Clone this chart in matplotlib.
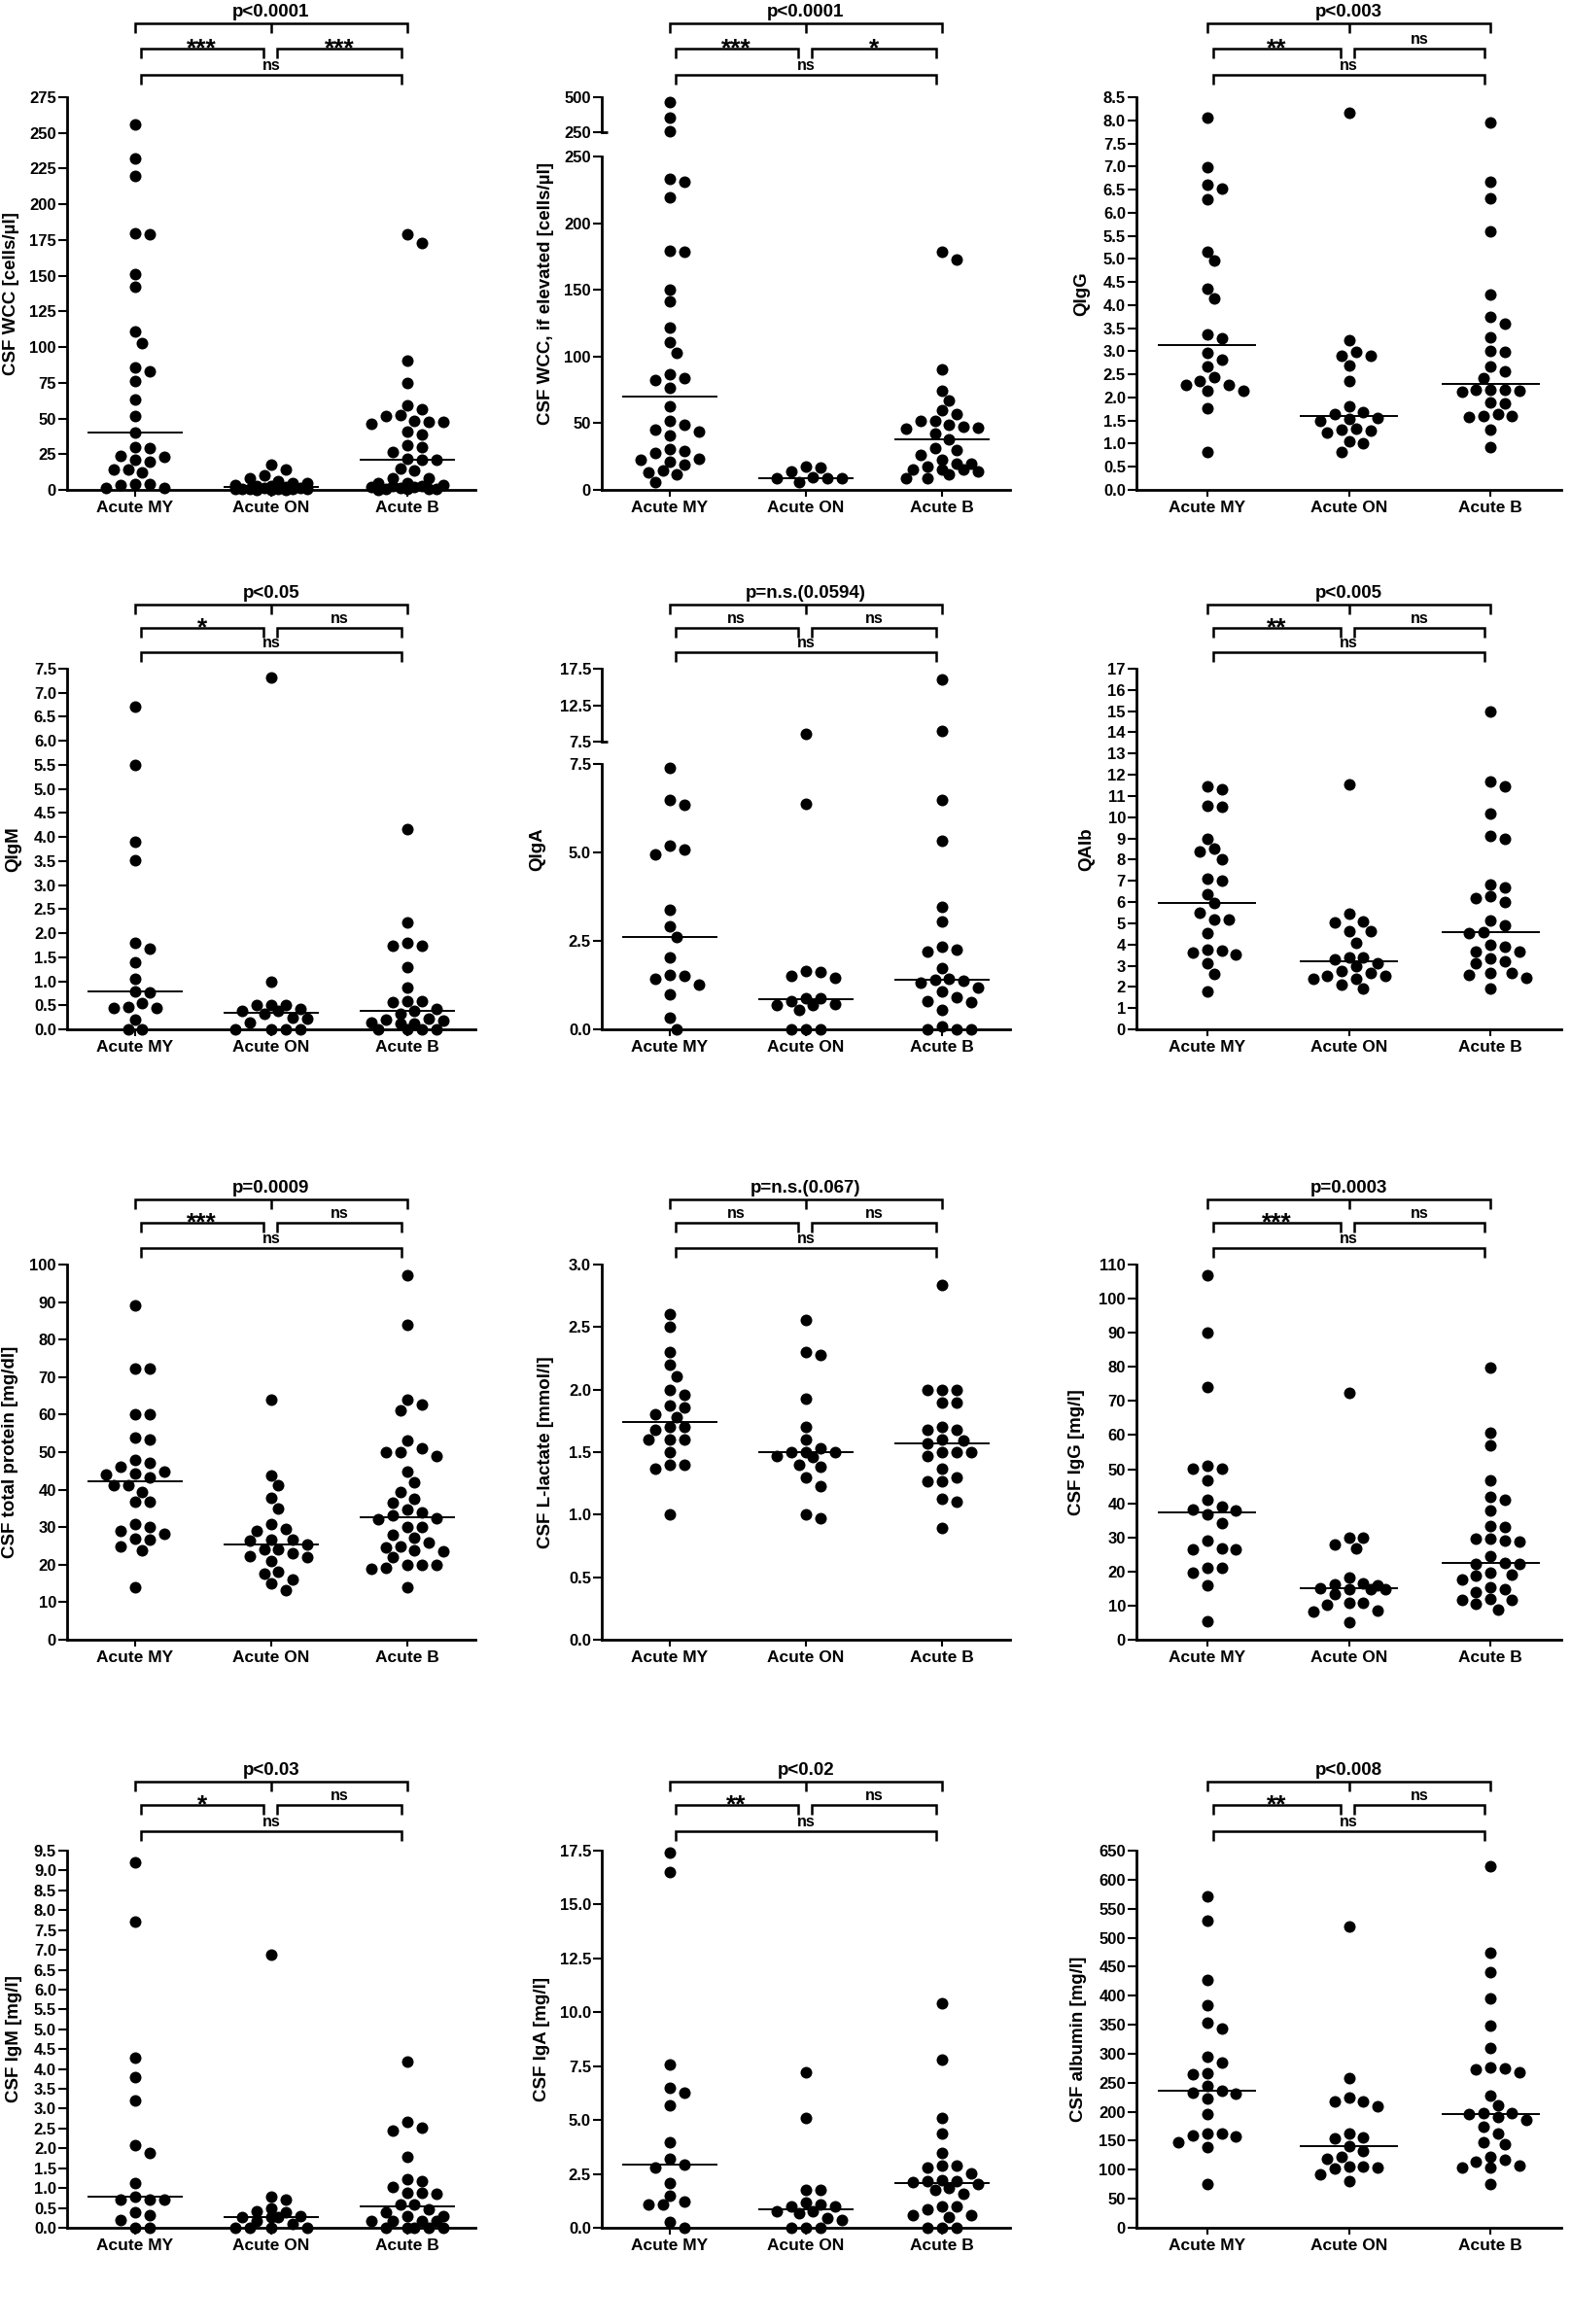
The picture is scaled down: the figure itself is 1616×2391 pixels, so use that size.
import matplotlib
matplotlib.use("Agg")
import matplotlib.pyplot as plt
import matplotlib.transforms as mtransforms
from matplotlib.ticker import MultipleLocator, FormatStrFormatter, FixedLocator
import numpy as np

plt.rcParams['font.family'] = ['Liberation Sans', 'DejaVu Sans']
plt.rcParams['font.weight'] = 'bold'
plt.rcParams['axes.labelweight'] = 'bold'

groups = ["Acute MY", "Acute ON", "Acute B"]

# CSF WCC [cells/µl]
wcc_my = [256, 232, 220, 180, 179, 151, 142, 111, 103, 86, 83, 76, 63, 52, 40,
          30, 29, 24, 23, 21, 20, 14.5, 14, 12, 4, 4, 3.5, 1.5, 1.5]
wcc_on = [17.5, 14, 10, 8.5, 6, 5, 4.5, 3.5, 3, 2.5, 2, 1.5, 1.5, 1, 1, 1,
          0.5, 0.5, 0.5, 0, 0, 0]
wcc_b = [179, 173, 90.5, 75, 59, 56.5, 52.5, 52, 48.5, 47.5, 47.5, 46, 41, 38.5,
         31, 30, 26.5, 22, 21, 21, 15, 13.5, 8.5, 8.5, 4.5, 4.5, 3.5, 3, 2.5,
         2, 2, 1.5, 1, 1, 0.5, 0.5, 0]

# CSF WCC, if elevated
wcce_my = [464, 354, 257, 233.5, 231, 219.5, 179.5, 178.5, 150.5, 141.5, 121.5,
           110.5, 102.5, 86.5, 83.5, 82.5, 76.5, 63, 51.5, 48.5, 45.5, 44, 40.5,
           30.5, 29, 28, 23, 22.5, 21.5, 19, 14.5, 13, 12, 6]
wcce_on = [17.5, 17, 14, 9.5, 8.5, 8.5, 8.5, 5.5]
wcce_b = [178.5, 172.5, 90.5, 74.5, 67, 59.5, 56.5, 52, 51.5, 48.5, 47.5, 46.5,
          46, 42, 38, 31.5, 30, 26, 22.5, 20, 20, 17.5, 15.5, 15, 15, 13.5,
          11.5, 8.5, 8.5]

# QIgG
qigg_my = [8.06, 6.98, 6.6, 6.53, 6.29, 5.16, 4.96, 4.36, 4.14, 3.37, 3.28, 2.97,
           2.81, 2.68, 2.45, 2.35, 2.28, 2.28, 2.14, 2.14, 1.77, 0.83]
qigg_on = [8.16, 3.23, 2.98, 2.9, 2.9, 2.69, 2.35, 1.8, 1.68, 1.65, 1.56, 1.53,
           1.5, 1.32, 1.3, 1.29, 1.25, 1.06, 1.02, 0.83]
qigg_b = [7.95, 6.68, 6.31, 5.59, 4.22, 3.75, 3.59, 3.3, 3.0, 2.98, 2.67, 2.56,
          2.43, 2.17, 2.17, 2.16, 2.14, 2.12, 1.89, 1.87, 1.65, 1.6, 1.6, 1.57,
          1.3, 0.93]

# QIgM
qigm_my = [6.71, 5.5, 3.9, 3.51, 1.8, 1.68, 1.4, 1.06, 0.78, 0.76, 0.55, 0.47,
           0.45, 0.45, 0.2, 0, 0]
qigm_on = [7.32, 0.99, 0.51, 0.51, 0.51, 0.42, 0.38, 0.38, 0.32, 0.24, 0.22,
           0.15, 0, 0, 0, 0]
qigm_b = [4.16, 2.22, 1.8, 1.73, 1.73, 1.29, 0.87, 0.59, 0.59, 0.57, 0.42, 0.38,
          0.32, 0.22, 0.2, 0.18, 0.15, 0.13, 0.13, 0, 0, 0, 0]

# QIgA
qiga_my = [7.4, 6.47, 6.35, 5.2, 5.07, 4.95, 3.39, 2.91, 2.61, 2.02, 1.53, 1.5,
           1.42, 1.27, 0.99, 0.32, 0]
qiga_on = [8.52, 6.38, 1.65, 1.63, 1.5, 1.45, 0.89, 0.87, 0.81, 0.72, 0.69, 0.69,
           0.55, 0, 0, 0]
qiga_b = [16.08, 8.97, 6.47, 5.34, 3.47, 3.06, 2.34, 2.25, 2.2, 1.74, 1.42, 1.4,
          1.38, 1.31, 1.17, 1.06, 0.9, 0.81, 0.78, 0.55, 0.09, 0, 0, 0]

# QAlb
qalb_my = [11.44, 11.3, 10.54, 10.49, 8.99, 8.53, 8.39, 8.01, 7.12, 7.0, 6.39,
           5.94, 5.51, 5.18, 5.16, 4.52, 3.78, 3.72, 3.63, 3.52, 3.11, 2.63, 1.79]
qalb_on = [11.53, 5.44, 5.1, 5.02, 4.64, 4.62, 4.1, 3.41, 3.41, 3.32, 3.11, 2.96,
           2.73, 2.65, 2.53, 2.53, 2.4, 2.37, 2.11, 1.91]
qalb_b = [15.0, 11.7, 11.45, 10.15, 9.11, 9.0, 6.85, 6.71, 6.28, 6.2, 6.02, 5.13,
          4.9, 4.59, 4.55, 3.98, 3.9, 3.68, 3.68, 3.34, 3.22, 3.11, 2.68, 2.68,
          2.57, 2.45, 1.91]

# CSF total protein [mg/dl]
prot_my = [89.2, 72.2, 72.2, 60.1, 60.1, 54.0, 53.3, 47.8, 47.1, 46.2, 44.9, 44.3,
           44.1, 43.2, 41.3, 41.1, 39.5, 36.9, 36.9, 30.9, 30.0, 29.0, 28.3, 27.0,
           26.8, 24.9, 23.9, 14.0]
prot_on = [64.0, 43.9, 41.1, 37.9, 35.0, 30.9, 29.6, 29.0, 26.8, 26.8, 26.5, 25.5,
           24.0, 24.0, 23.1, 22.2, 21.9, 21.0, 18.2, 17.5, 16.0, 14.9, 13.2]
prot_b = [97.2, 84.0, 64.0, 62.8, 61.1, 53.0, 51.0, 50.0, 50.0, 49.0, 44.9, 41.9,
          39.5, 37.6, 36.5, 34.6, 34.0, 33.1, 32.4, 32.2, 30.1, 30.1, 27.9, 27.1,
          25.9, 24.8, 24.6, 23.8, 23.5, 21.9, 19.9, 19.9, 19.9, 19.3, 18.8, 14.1]

# CSF L-lactate [mmol/l]
lac_my = [2.60, 2.50, 2.30, 2.20, 2.11, 2.00, 1.96, 1.87, 1.86, 1.80, 1.78, 1.70,
          1.70, 1.68, 1.60, 1.60, 1.60, 1.50, 1.40, 1.40, 1.37, 1.00]
lac_on = [2.56, 2.30, 2.28, 1.93, 1.70, 1.60, 1.53, 1.50, 1.50, 1.50, 1.47, 1.46,
          1.40, 1.38, 1.30, 1.23, 1.00, 0.97]
lac_b = [2.84, 2.00, 2.00, 2.00, 1.90, 1.90, 1.70, 1.68, 1.68, 1.60, 1.59, 1.57,
         1.50, 1.50, 1.50, 1.47, 1.37, 1.30, 1.27, 1.27, 1.13, 1.10, 0.89]

# CSF IgG [mg/l]
igg_my = [107, 90.1, 74.2, 50.9, 50.1, 50.1, 46.6, 40.9, 38.9, 38.3, 38.0, 36.8,
          34.2, 29.0, 26.9, 26.6, 26.4, 21.1, 21.1, 19.8, 15.9, 5.4]
igg_on = [72.5, 29.9, 29.9, 27.9, 26.9, 18.1, 16.6, 16.2, 15.9, 15.2, 14.9, 14.9,
          14.7, 13.5, 10.7, 10.7, 10.2, 8.6, 8.3, 5.2]
igg_b = [79.9, 60.7, 56.9, 46.6, 42.0, 40.9, 38.0, 33.3, 33.0, 29.7, 29.7, 29.0,
         28.8, 24.4, 22.6, 22.3, 22.1, 19.7, 19.2, 18.8, 17.6, 15.4, 14.7, 14.1,
         11.9, 11.6, 11.6, 10.5, 8.7]

# CSF IgM [mg/l]
igm_my = [9.2, 7.71, 4.29, 3.79, 3.21, 2.09, 1.88, 1.13, 0.79, 0.7, 0.7, 0.7,
          0.38, 0.31, 0.19, 0, 0]
igm_on = [6.88, 0.79, 0.7, 0.49, 0.41, 0.38, 0.29, 0.27, 0.27, 0.26, 0.18, 0.11,
          0, 0, 0, 0]
igm_b = [4.19, 2.67, 2.53, 2.44, 1.78, 1.23, 1.17, 1.02, 0.87, 0.87, 0.86, 0.59,
         0.59, 0.47, 0.39, 0.29, 0.29, 0.16, 0.16, 0.16, 0.16, 0, 0, 0, 0, 0]

# CSF IgA [mg/l]
iga_my = [17.42, 16.52, 7.59, 6.49, 6.29, 5.69, 3.95, 3.2, 2.91, 2.79, 2.07, 1.51,
          1.21, 1.06, 1.06, 0.27, 0]
iga_on = [7.21, 5.08, 1.78, 1.78, 1.16, 1.06, 0.98, 0.98, 0.75, 0.75, 0.68, 0.45,
          0.35, 0, 0, 0]
iga_b = [10.41, 7.8, 5.08, 4.37, 3.47, 2.87, 2.87, 2.79, 2.53, 2.19, 2.16, 2.16,
         2.11, 2.04, 1.84, 1.78, 1.58, 0.98, 0.98, 0.87, 0.6, 0.6, 0.5, 0, 0, 0]

# CSF albumin [mg/l]
alb_my = [570.6, 529.7, 427.9, 384.3, 353.5, 342.9, 295.4, 284.2, 266.8, 264.6,
          244.4, 236.1, 232.1, 231.0, 222.1, 195.8, 163.3, 162.2, 159.4, 157.7,
          147.1, 139.8, 75.5]
alb_on = [519.1, 257.3, 223.8, 218.2, 217.0, 209.8, 163.3, 156.6, 153.8, 141.5,
          132.6, 123.1, 118.6, 106.3, 106.3, 104.6, 101.8, 92.3, 81.1]
alb_b = [623.7, 474.3, 440.2, 395.5, 348.5, 309.3, 275.8, 275.2, 273.0, 268.5,
         228.2, 210.9, 196.9, 196.9, 195.8, 190.2, 185.7, 174.5, 162.2, 146.6,
         143.8, 121.9, 117.5, 113.6, 108.0, 104.6, 104.6, 75.5]

panels = [
    dict(data=(wcc_my, wcc_on, wcc_b), ylabel="CSF WCC [cells/µl]", ymax=275, step=25,
         fmt='%d', p="p<0.0001", marks=("***", "***", "ns")),
    dict(data=(wcce_my, wcce_on, wcce_b), ylabel="CSF WCC, if elevated [cells/µl]",
         ymax=250, step=50, fmt='%d', p="p<0.0001", marks=("***", "*", "ns"),
         brk=dict(lim=(250, 500), ticks=[250, 500], up_bottom=136, low_top=161)),
    dict(data=(qigg_my, qigg_on, qigg_b), ylabel="QIgG", ymax=8.5, step=0.5,
         fmt='%.1f', p="p<0.003", marks=("**", "ns", "ns")),
    dict(data=(qigm_my, qigm_on, qigm_b), ylabel="QIgM", ymax=7.5, step=0.5,
         fmt='%.1f', p="p<0.05", marks=("*", "ns", "ns")),
    dict(data=(qiga_my, qiga_on, qiga_b), ylabel="QIgA", ymax=7.5, step=2.5,
         fmt='%.1f', p="p=n.s.(0.0594)", marks=("ns", "ns", "ns"),
         brk=dict(lim=(7.5, 17.5), ticks=[7.5, 12.5, 17.5], up_bottom=763, low_top=786)),
    dict(data=(qalb_my, qalb_on, qalb_b), ylabel="QAlb", ymax=17, step=1,
         fmt='%d', p="p<0.005", marks=("**", "ns", "ns")),
    dict(data=(prot_my, prot_on, prot_b), ylabel="CSF total protein [mg/dl]", ymax=100,
         step=10, fmt='%d', p="p=0.0009", marks=("***", "ns", "ns")),
    dict(data=(lac_my, lac_on, lac_b), ylabel="CSF L-lactate [mmol/l]", ymax=3.0,
         step=0.5, fmt='%.1f', p="p=n.s.(0.067)", marks=("ns", "ns", "ns")),
    dict(data=(igg_my, igg_on, igg_b), ylabel="CSF IgG [mg/l]", ymax=110, step=10,
         fmt='%d', p="p=0.0003", marks=("***", "ns", "ns")),
    dict(data=(igm_my, igm_on, igm_b), ylabel="CSF IgM [mg/l]", ymax=9.5, step=0.5,
         fmt='%.1f', p="p<0.03", marks=("*", "ns", "ns")),
    dict(data=(iga_my, iga_on, iga_b), ylabel="CSF IgA [mg/l]", ymax=17.5, step=2.5,
         fmt='%.1f', p="p<0.02", marks=("**", "ns", "ns")),
    dict(data=(alb_my, alb_on, alb_b), ylabel="CSF albumin [mg/l]", ymax=650, step=50,
         fmt='%d', p="p<0.008", marks=("**", "ns", "ns")),
]

W, H = 1616, 2391
fig = plt.figure(figsize=(W / 100, H / 100), dpi=100)

# layout in pixels
col_left = [69, 619, 1169]
col_width = [420, 420, 437]
row_top = [100, 688, 1301, 1904]
row_bottom = [504, 1059, 1687, 2292]
bracket_rows = [(24, 50, 77), (622, 646, 671), (1234, 1258, 1284), (1833, 1857, 1884)]
label_dx = [-57, -57, -56, -55, -66, -51, -58, -57, -61, -54, -62, -59]

LW = 2.0
DOT_PX = 12.0


def add_px_axes(left, top, width, bottom):
    return fig.add_axes([left / W, 1 - bottom / H, width / W, (bottom - top) / H])


def swarm_x(ax, vals, center, diam=DOT_PX, half=7.4, kmax=5):
    # prism-like column scatter: centre first, then alternate sides,
    # overlapping once the column is full
    vals = np.asarray(vals, dtype=float)
    ys = ax.transData.transform(np.column_stack([np.full(len(vals), center), vals]))[:, 1]
    offs = np.zeros(len(vals))
    placed = []
    cand = [0]
    for k in range(1, kmax + 1):
        cand += [k, -k]
    for i in np.argsort(-vals, kind='stable'):
        best, best_d = None, -1.0
        for s in cand:
            x = s * half
            d = min((np.hypot(x - px, ys[i] - py) for px, py in placed), default=1e9)
            if d >= diam:
                best = x
                break
            if d > best_d + 0.5:
                best, best_d = x, d
        placed.append((best, ys[i]))
        offs[i] = best
    return center + offs * 3.0 / ax.bbox.width


def dots(ax, vals, center):
    if len(vals) == 0:
        return
    xs = swarm_x(ax, vals, center)
    ax.scatter(xs, vals, s=(DOT_PX * 0.72) ** 2, c='black', linewidths=0,
               clip_on=False, zorder=3)


def style_y(ax, fmt):
    ax.spines['top'].set_visible(False)
    ax.spines['right'].set_visible(False)
    ax.spines['left'].set_linewidth(LW)
    ax.spines['bottom'].set_linewidth(LW)
    ax.yaxis.set_major_formatter(FormatStrFormatter(fmt))
    ax.tick_params(axis='y', length=6.5, width=1.5, labelsize=12, pad=1.5)


for i, pn in enumerate(panels):
    r, c = divmod(i, 3)
    top, bottom = row_top[r], row_bottom[r]
    left, width = col_left[c], col_width[c]
    brk = pn.get('brk')

    if brk:
        ax = add_px_axes(left, brk['low_top'], width, bottom)
        ax_up = add_px_axes(left, top, width, brk['up_bottom'])
    else:
        ax = add_px_axes(left, top, width, bottom)
        ax_up = None

    ax.set_xlim(-0.5, 2.5)
    ax.set_ylim(0, pn['ymax'])
    ax.yaxis.set_major_locator(MultipleLocator(pn['step']))
    style_y(ax, pn['fmt'])
    ax.set_xticks([0, 1, 2])
    ax.set_xticklabels(groups, fontsize=12.5, fontweight='bold')
    ax.tick_params(axis='x', length=5, width=1.5, pad=3)

    if ax_up is not None:
        lo, hi = brk['lim']
        ax_up.set_xlim(-0.5, 2.5)
        ax_up.set_ylim(lo, hi)
        ax_up.yaxis.set_major_locator(FixedLocator(brk['ticks']))
        style_y(ax_up, pn['fmt'])
        ax_up.spines['bottom'].set_visible(False)
        ax_up.set_xticks([])
        ax_up.patch.set_visible(False)
        ax_up.plot([0, 6 / width], [0, 0], transform=ax_up.transAxes, color='black',
                   lw=LW, clip_on=False, solid_capstyle='butt')

    for g, vals in enumerate(pn['data']):
        vals = np.asarray(vals, dtype=float)
        if ax_up is not None:
            dots(ax, vals[vals <= brk['lim'][0]], g)
            dots(ax_up, vals[vals > brk['lim'][0]], g)
        else:
            dots(ax, vals, g)
        med = np.median(vals)
        ax.plot([g - 0.34, g + 0.34], [med, med], color='black', lw=1.4, zorder=4)

    # y label, centred on the whole panel
    fig.text((left + label_dx[i]) / W, 1 - (top + bottom) / 2 / H, pn['ylabel'],
             rotation=90, ha='center', va='center', fontsize=13.5, fontweight='bold')

    # significance brackets
    tr = mtransforms.blended_transform_factory(ax.transData, fig.transFigure)
    b1, b2, b3 = bracket_rows[r]
    tick = 10

    def fy(px):
        return 1 - px / H

    kw = dict(transform=tr, color='black', lw=1.8, clip_on=False,
              solid_joinstyle='miter', solid_capstyle='butt')
    ax.plot([0, 0, 2, 2], [fy(b1 + tick), fy(b1), fy(b1), fy(b1 + tick)], **kw)
    ax.plot([1, 1], [fy(b1), fy(b1 + tick)], **kw)
    ax.plot([0.04, 0.04, 0.94, 0.94], [fy(b2 + tick), fy(b2), fy(b2), fy(b2 + tick)], **kw)
    ax.plot([1.04, 1.04, 1.96, 1.96], [fy(b2 + tick), fy(b2), fy(b2), fy(b2 + tick)], **kw)
    ax.plot([0.04, 0.04, 1.96, 1.96], [fy(b3 + tick), fy(b3), fy(b3), fy(b3 + tick)], **kw)

    ax.text(1, fy(b1 - 7), pn['p'], transform=tr, ha='center', va='baseline',
            fontsize=13.5, fontweight='bold')
    left_mark, right_mark, long_mark = pn['marks']
    for xm, mark in ((0.49, left_mark), (1.5, right_mark)):
        if mark == "ns":
            ax.text(xm, fy(b2 - 5), mark, transform=tr, ha='center', va='baseline',
                    fontsize=11.5, fontweight='bold')
        else:
            ax.text(xm, fy(b2 + 7), mark, transform=tr, ha='center', va='baseline',
                    fontsize=19, fontweight='bold')
    ax.text(1, fy(b3 - 5), long_mark, transform=tr, ha='center', va='baseline',
            fontsize=11.5, fontweight='bold')

fig.savefig("out.png", dpi=100)
